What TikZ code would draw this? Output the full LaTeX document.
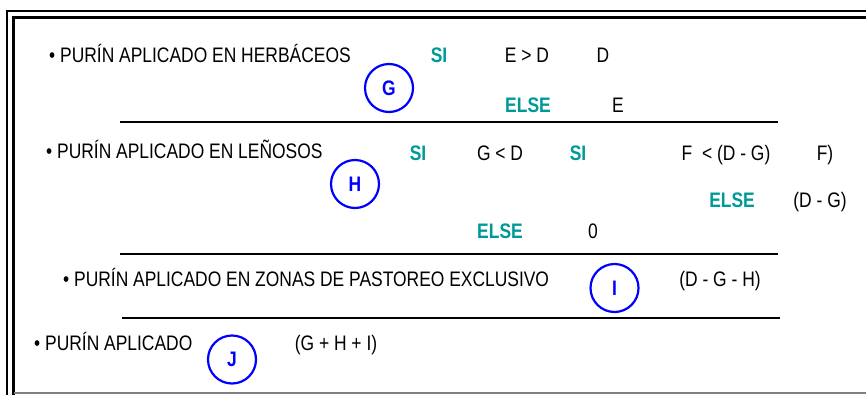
\documentclass[tikz,border=0pt]{standalone}
\usepackage{fontspec}
\setmainfont[FakeStretch=0.83]{Liberation Sans}
\usepackage{tikz}
\definecolor{siteal}{RGB}{0,153,153}
\definecolor{ringblue}{RGB}{0,0,255}

\begin{document}
\begin{tikzpicture}[x=1pt, y=-1pt,
	txt/.style={anchor=base, inner sep=0pt, font=\fontsize{21}{25}\selectfont},
	item/.style={txt, anchor=base west},
	cond/.style={txt, text=siteal, font=\fontsize{21}{25}\selectfont\bfseries},
	ref/.style={circle, draw=ringblue, line width=2.2pt, minimum size=48pt, inner sep=0pt, text=ringblue, font=\fontsize{21}{25}\selectfont\bfseries},
	rule/.style={line width=2.4pt}]
	\useasboundingbox (0,0) rectangle (866,394);

	\draw[line width=2pt] (7,396) -- (7,11) -- (868,11);
	\draw[line width=3pt] (13.5,396) -- (13.5,17) -- (868,17);
	\draw[gray, line width=1.5pt] (13.5,393) -- (868,393);

	\node[item] (herb) at (49,62.5) {• PURÍN APLICADO EN HERBÁCEOS};
	\node[cond] (si1) at (439,62.5) {SI};
	\node[txt] (ed) at (527,62.5) {E > D};
	\node[txt] (d1) at (603,62.5) {D};
	\node[ref] (g) at (389,88) {G};
	\node[cond] (else1) at (528,112.5) {ELSE};
	\node[txt] (e1) at (618,112.5) {E};
	\draw[rule] (120,122) -- (778,122);

	\node[item] (leno) at (46,158) {• PURÍN APLICADO EN LEÑOSOS};
	\node[cond] (si2) at (418,160) {SI};
	\node[txt] (gd) at (500,160) {G < D};
	\node[cond] (si3) at (578,160) {SI};
	\node[txt] (fdg) at (726,160) {F~~< (D - G)};
	\node[txt] (f) at (825,160) {F)};
	\node[ref] (h) at (355,184) {H};
	\node[cond] (else2) at (732,207) {ELSE};
	\node[txt] (dg) at (820,207) {(D - G)};
	\node[cond] (else3) at (500,238) {ELSE};
	\node[txt] (cero) at (593,238) {0};
	\draw[rule] (120,254) -- (778,254);

	\node[item] (past) at (63,286) {• PURÍN APLICADO EN ZONAS DE PASTOREO EXCLUSIVO};
	\node[ref] (i) at (614.5,288) {I};
	\node[txt] (dgh) at (720,286) {(D - G - H)};
	\draw[rule] (122,318) -- (780,318);

	\node[item] (apl) at (34,350) {• PURÍN APLICADO};
	\node[ref] (j) at (232,359.5) {J};
	\node[txt] (ghi) at (336,350) {(G + H + I)};
\end{tikzpicture}
\end{document}
